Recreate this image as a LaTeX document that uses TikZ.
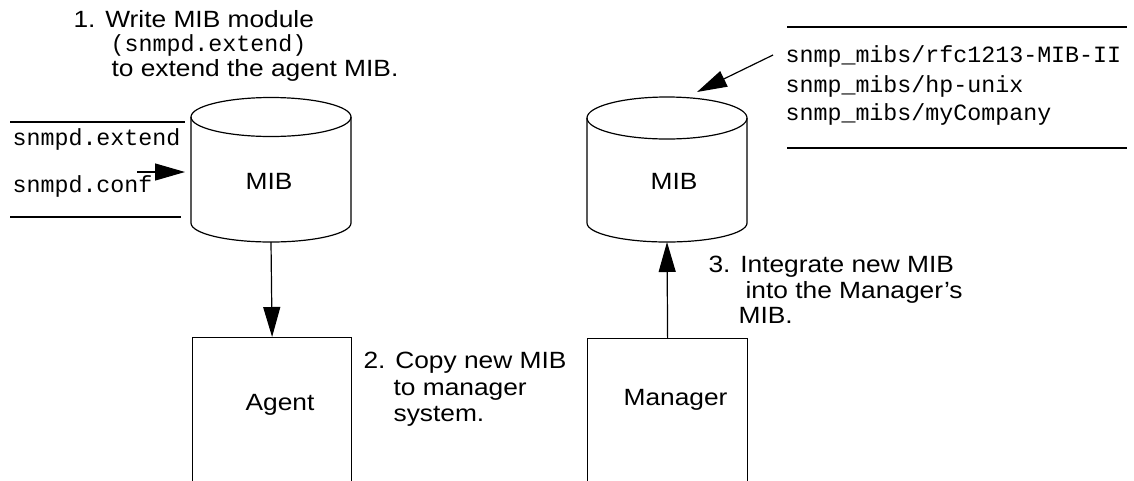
\documentclass[tikz,border=0pt]{standalone}
\usepackage{graphicx}
\usepackage{fontspec}
\setmainfont{Liberation Sans}
\setmonofont{Liberation Mono}
\usetikzlibrary{arrows.meta}
\newcommand{\wide}[1]{\scalebox{1.12}[1]{#1}}
\begin{document}
\begin{tikzpicture}[x=1pt, y=-1pt, line width=1.2pt,
  lbl/.style={anchor=base west, inner sep=0pt, font=\fontsize{23.5}{28}\selectfont},
  mono/.style={anchor=base west, inner sep=0pt, font=\fontsize{23.3}{28}\selectfont\ttfamily},
  tip/.style={-{Triangle[length=30pt,width=17pt]}},
  sysbox/.style={draw, anchor=north west, minimum width=159pt, minimum height=200pt, inner sep=0pt}]
\useasboundingbox (0,0) rectangle (1134,480);

% ---- left cylinder (agent MIB)
\draw (191,117) -- (191,223) arc[start angle=180, end angle=0, x radius=80, y radius=19] -- (351,117);
\draw (271,117) ellipse [x radius=80, y radius=19.5];
\node[lbl] (mibA) at (245,189) {\wide{MIB}};
\coordinate (mibAbot) at (271,242);
\coordinate (mibAw) at (185,172);

% ---- right cylinder (manager MIB)
\draw (587,118) -- (587,223) arc[start angle=180, end angle=0, x radius=80, y radius=19] -- (747,118);
\draw (667,118) ellipse [x radius=80, y radius=21];
\node[lbl] (mibB) at (650,189) {\wide{MIB}};
\coordinate (mibBbot) at (667,242);
\coordinate (mibBtop) at (697,92);

% ---- boxes
\node[sysbox] (agent) at (192,337) {};
\node[lbl] (agentlbl) at (245,410) {\wide{Agent}};
\node[sysbox, minimum width=160pt] (manager) at (587,338) {};
\node[lbl] (managerlbl) at (623,405) {\wide{Manager}};

% ---- step 1 text
\node[lbl] (s1a) at (73,27) {\wide{1. Write MIB module}};
\node[mono] (s1b) at (110,51) {(snmpd.extend)};
\node[lbl] (s1c) at (111,76) {\wide{to extend the agent MIB.}};

% ---- left file list
\draw (10,122) -- (185,122);
\draw (10,217) -- (181,217);
\node[mono] (fext) at (12,145) {snmpd.extend};
\node[mono] (fconf) at (12,192) {snmpd.conf};
\coordinate (confArrow) at (137,172);
\draw[tip] (confArrow) -- (mibAw);

% ---- right file list
\draw (787,27) -- (1127,27);
\draw (787,148) -- (1127,148);
\node[mono] (r1) at (785,62) {snmp\_mibs/rfc1213-MIB-II};
\node[mono] (r2) at (785,92) {snmp\_mibs/hp-unix};
\node[mono] (r3) at (785,120) {snmp\_mibs/myCompany};
\coordinate (listArrow) at (773,55);
\draw[tip] (listArrow) -- (mibBtop);

% ---- connectors
\draw[tip] (mibAbot) -- (agent.north);
\draw[tip] (manager.north) -- (mibBbot);

% ---- step 2 text
\node[lbl] (s2a) at (363,368) {\wide{2. Copy new MIB}};
\node[lbl] (s2b) at (393,395) {\wide{to manager}};
\node[lbl] (s2c) at (393,421) {\wide{system.}};

% ---- step 3 text
\node[lbl] (s3a) at (708,272) {\wide{3. Integrate new MIB}};
\node[lbl] (s3b) at (745,298) {\wide{into the Manager’s}};
\node[lbl] (s3c) at (738,323) {\wide{MIB.}};
\end{tikzpicture}
\end{document}
